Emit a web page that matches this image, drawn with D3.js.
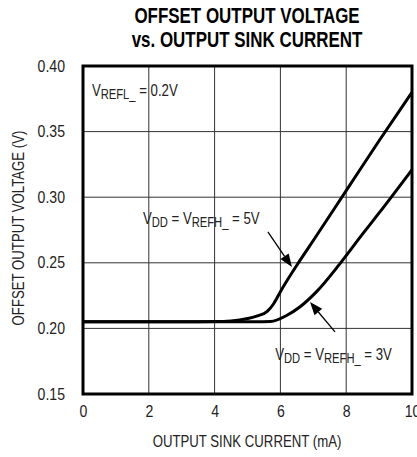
<!DOCTYPE html>
<meta charset="utf-8">
<html>
<head><title>Offset output voltage vs output sink current</title>
<script src="https://d3js.org/d3.v7.min.js"></script>
<style>
    body { margin: 0; background: #fff; }
    text { font-family: "Liberation Sans Narrow", "Liberation Sans", Arial, sans-serif; fill: #222; }
    .grid line { stroke: #333; stroke-width: 1; }
    .curve { fill: none; stroke: #000; stroke-width: 3; }
</style>
</head>
<body>
<script>
// curve data (mA, V)
var current5V = [0, 2, 4, 4.5, 5, 5.3, 5.6, 5.8, 6, 6.6, 7, 8, 9, 10];
var offset5V  = [0.205, 0.205, 0.2052, 0.2057, 0.2075, 0.2095, 0.213, 0.219, 0.228, 0.252, 0.267, 0.305, 0.343, 0.380];
var current3V = [0, 2, 4, 5.7, 6.2, 6.6, 7.1, 7.8, 8.5, 9, 10];
var offset3V  = [0.205, 0.205, 0.205, 0.2052, 0.210, 0.2165, 0.228, 0.249, 0.272, 0.288, 0.321];
var xTicks = [0, 2, 4, 6, 8, 10];
var yTicks = [0.15, 0.20, 0.25, 0.30, 0.35, 0.40];

var W = 417, H = 457;
var plotL = 83, plotR = 412, plotT = 66, plotB = 394;

var svg = d3.select("body").append("svg")
    .attr("width", W)
    .attr("height", H);

var x = d3.scaleLinear().domain([0, 10]).range([plotL, plotR]);
var y = d3.scaleLinear().domain([0.15, 0.40]).range([plotB, plotT]);

// title
svg.append("text").attr("x", 247).attr("y", 23).attr("text-anchor", "middle").attr("data-sq", 0.77)
    .style("font-weight", "bold").style("font-size", "22px").style("fill", "#000")
    .text("OFFSET OUTPUT VOLTAGE");
svg.append("text").attr("x", 247).attr("y", 47).attr("text-anchor", "middle").attr("data-sq", 0.77)
    .style("font-weight", "bold").style("font-size", "22px").style("fill", "#000")
    .text("vs. OUTPUT SINK CURRENT");

// grid
var grid = svg.append("g").attr("class", "grid");
grid.selectAll(".vx").data(xTicks.slice(1, -1)).enter().append("line")
    .attr("x1", d => x(d)).attr("x2", d => x(d))
    .attr("y1", plotT).attr("y2", plotB);
grid.selectAll(".hy").data(yTicks.slice(1, -1)).enter().append("line")
    .attr("y1", d => y(d)).attr("y2", d => y(d))
    .attr("x1", plotL).attr("x2", plotR);

// axes (labels only, frame drawn separately)
var xAxis = svg.append("g").attr("transform", "translate(0," + plotB + ")")
    .call(d3.axisBottom(x).tickValues(xTicks).tickSize(0).tickPadding(12).tickFormat(d3.format("d")));
var yAxis = svg.append("g").attr("transform", "translate(" + plotL + ",0)")
    .call(d3.axisLeft(y).tickValues(yTicks).tickSize(0).tickPadding(18).tickFormat(d3.format(".2f")));
[xAxis, yAxis].forEach(function(a) {
    a.select(".domain").remove();
    a.attr("font-family", null).attr("font-size", null);
    a.selectAll("text").style("font-size", "16px").attr("fill", "#222").attr("data-sq", 0.88);
});

// curves
var line = d3.line().x(d => x(d[0])).y(d => y(d[1])).curve(d3.curveMonotoneX);
svg.append("path").attr("class", "curve").attr("d", line(d3.zip(current5V, offset5V)));
svg.append("path").attr("class", "curve").attr("d", line(d3.zip(current3V, offset3V)));

// frame
svg.append("rect").attr("x", plotL).attr("y", plotT)
    .attr("width", plotR - plotL).attr("height", plotB - plotT)
    .attr("fill", "none").attr("stroke", "#000").attr("stroke-width", 3);

// axis titles
svg.append("text").attr("x", 247).attr("y", 447).attr("text-anchor", "middle").attr("data-sq", 0.8)
    .style("font-size", "16.5px").text("OUTPUT SINK CURRENT (mA)");
svg.append("text").attr("transform", "translate(24,228) rotate(-90)").attr("text-anchor", "middle").attr("data-sq", 0.8)
    .style("font-size", "16.5px").text("OFFSET OUTPUT VOLTAGE (V)");

// annotations
function label(xv, yv, parts) {
    var t = svg.append("text").attr("x", x(xv)).attr("y", y(yv)).attr("data-sq", 0.8).style("font-size", "16.5px");
    parts.forEach(function(p) {
        t.append("tspan").text(p[0])
            .style("font-size", p[1] ? "14px" : "16.5px")
            .attr("dy", p[1] ? 3 : (p[2] ? -3 : 0));
    });
}
label(0.27, 0.377, [["V"], ["REFL_", 1], [" = 0.2V", 0, 1]]);
label(1.82, 0.2796, [["V"], ["DD", 1], [" = V", 0, 1], ["REFH_", 1], [" = 5V", 0, 1]]);
label(5.84, 0.176, [["V"], ["DD", 1], [" = V", 0, 1], ["REFH_", 1], [" = 3V", 0, 1]]);

function arrow(x0, y0, x1, y1) {
    var px0 = x(x0), py0 = y(y0), px1 = x(x1), py1 = y(y1);
    var ang = Math.atan2(py1 - py0, px1 - px0), len = 13, wid = 5;
    var bx = px1 - len * Math.cos(ang), by = py1 - len * Math.sin(ang);
    svg.append("line").attr("x1", px0).attr("y1", py0).attr("x2", bx).attr("y2", by)
        .attr("stroke", "#000").attr("stroke-width", 1.3);
    svg.append("path")
        .attr("d", "M" + px1 + "," + py1 +
            "L" + (bx + wid * Math.sin(ang)) + "," + (by - wid * Math.cos(ang)) +
            "L" + (bx - wid * Math.sin(ang)) + "," + (by + wid * Math.cos(ang)) + "Z")
        .attr("fill", "#000");
}
arrow(5.62, 0.2735, 6.35, 0.2468);
arrow(7.66, 0.1973, 6.9, 0.2201);

// no narrow font installed: squeeze every text to a condensed width
svg.selectAll("text").each(function() {
    var sq = +this.getAttribute("data-sq") || 0.8;
    var w = this.getComputedTextLength();
    d3.select(this).attr("textLength", w * sq).attr("lengthAdjust", "spacingAndGlyphs");
});
</script>
</body>
</html>
